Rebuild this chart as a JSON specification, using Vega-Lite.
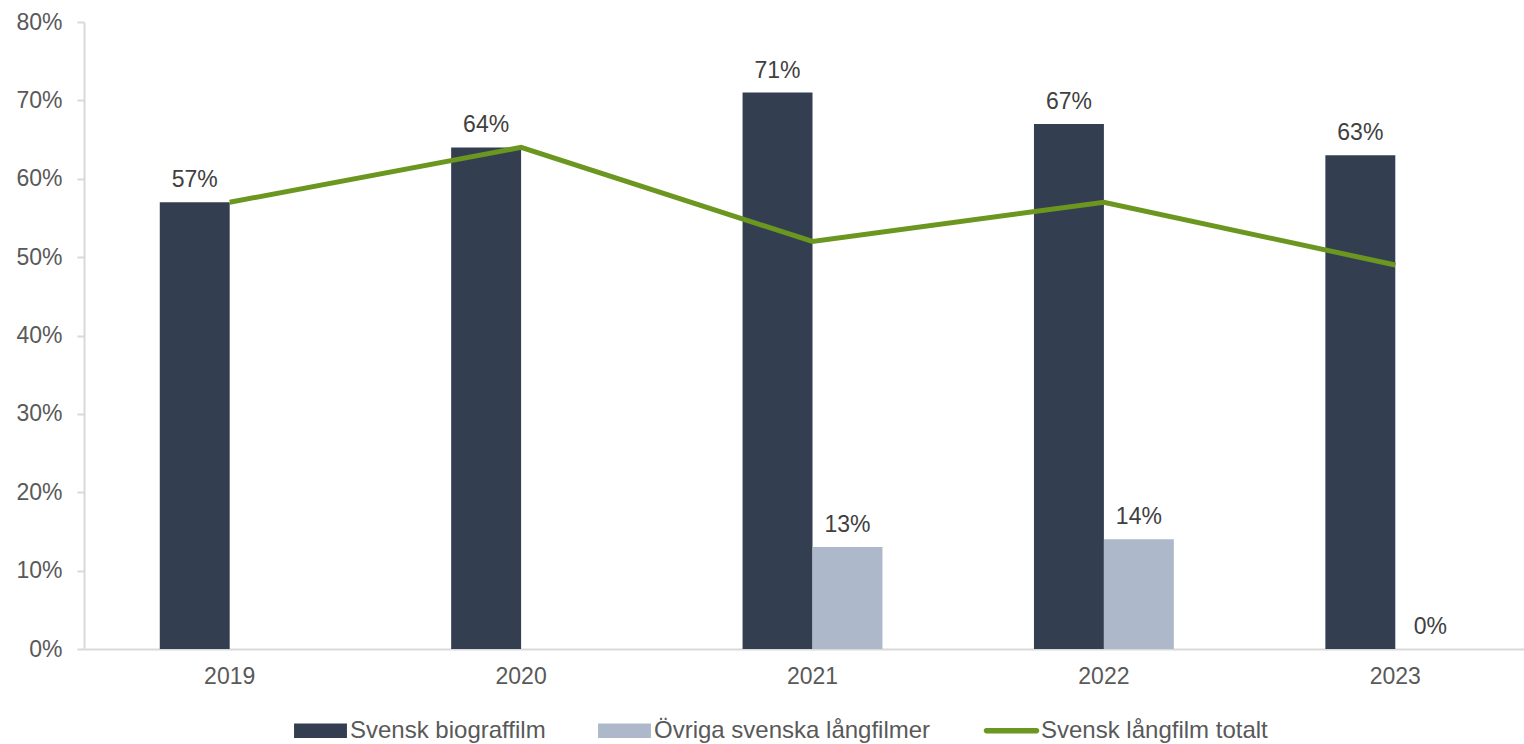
{
  "$schema": "https://vega.github.io/schema/vega-lite/v6.json",
  "width": 1440,
  "height": 627,
  "autosize": {"type": "none"},
  "padding": {"left": 84, "top": 22, "right": 0, "bottom": 95},
  "background": "white",
  "config": {
    "view": {"stroke": null},
    "font": "Liberation Sans",
    "axis": {"grid": false, "domainColor": "#d9d9d9", "domainWidth": 2, "tickColor": "#d9d9d9", "tickWidth": 2, "labelColor": "#595959", "labelFont": "Liberation Sans", "labelFontSize": 23, "title": null}
  },
  "datasets": {
    "bars": [
      {"year": "2019", "series": "Svensk biograffilm", "value": 0.57},
      {"year": "2020", "series": "Svensk biograffilm", "value": 0.64},
      {"year": "2021", "series": "Svensk biograffilm", "value": 0.71},
      {"year": "2022", "series": "Svensk biograffilm", "value": 0.67},
      {"year": "2023", "series": "Svensk biograffilm", "value": 0.63},
      {"year": "2021", "series": "Övriga svenska långfilmer", "value": 0.13},
      {"year": "2022", "series": "Övriga svenska långfilmer", "value": 0.14},
      {"year": "2023", "series": "Övriga svenska långfilmer", "value": 0.0}
    ],
    "line": [
      {"year": "2019", "total": 0.57},
      {"year": "2020", "total": 0.64},
      {"year": "2021", "total": 0.52},
      {"year": "2022", "total": 0.57},
      {"year": "2023", "total": 0.49}
    ]
  },
  "layer": [
    {
      "data": {"name": "bars"},
      "mark": {"type": "bar"},
      "encoding": {
        "x": {"field": "year", "type": "nominal", "scale": {"range": [0, 1457], "paddingInner": 0.52, "paddingOuter": 0.26}, "axis": {"labelAngle": 0, "ticks": false, "labelPadding": 16, "domainColor": "#d9d9d9"}},
        "xOffset": {"field": "series", "type": "nominal", "scale": {"domain": ["Svensk biograffilm", "Övriga svenska långfilmer"], "paddingInner": 0, "paddingOuter": 0}},
        "y": {"field": "value", "type": "quantitative", "scale": {"domain": [0, 0.8], "nice": false}, "axis": {"values": [0, 0.1, 0.2, 0.3, 0.4, 0.5, 0.6, 0.7, 0.8], "format": ".0%", "tickSize": 7, "labelPadding": 15}},
        "color": {
          "field": "series", "type": "nominal",
          "scale": {"domain": ["Svensk biograffilm", "Övriga svenska långfilmer", "Svensk långfilm totalt"], "range": ["#333F50", "#ADB9CA", "#6B961F"]},
          "legend": {
            "title": null, "orient": "none", "direction": "horizontal", "legendX": 210, "legendY": 682,
            "symbolSize": 2800, "symbolStrokeWidth": 0, "labelFontSize": 24, "labelColor": "#595959", "labelFont": "Liberation Sans", "labelLimit": 0, "labelOffset": 3, "columnPadding": 52, "symbolOffset": 0,
            "encode": {"symbols": {"update": {"shape": {"signal": "datum.label === 'Svensk långfilm totalt' ? 'M-0.95,-0.1H0.95A0.1,0.1 0 0 1 0.95,0.1H-0.95A0.1,0.1 0 0 1 -0.95,-0.1Z' : 'M-1,-0.27H1V0.27H-1Z'"}}}}
          }
        }
      }
    },
    {
      "data": {"name": "bars"},
      "mark": {"type": "text", "baseline": "bottom", "dy": -10, "fontSize": 23, "color": "#404040", "font": "Liberation Sans"},
      "encoding": {
        "x": {"field": "year", "type": "nominal"},
        "xOffset": {"field": "series", "type": "nominal"},
        "y": {"field": "value", "type": "quantitative"},
        "text": {"field": "value", "type": "quantitative", "format": ".0%"}
      }
    },
    {
      "data": {"name": "line"},
      "mark": {"type": "line", "color": "#6B961F", "strokeWidth": 5},
      "encoding": {
        "x": {"field": "year", "type": "nominal"},
        "y": {"field": "total", "type": "quantitative"}
      }
    }
  ]
}
